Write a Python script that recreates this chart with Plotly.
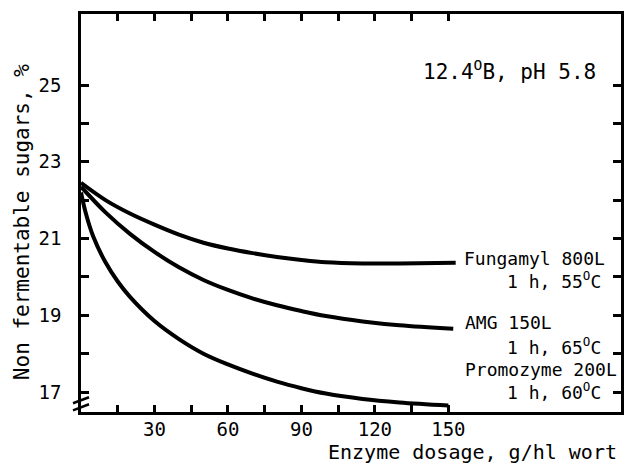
import plotly.graph_objects as go

# Data
dose_fungamyl = [0, 10, 20, 30, 40, 50, 60, 70, 80, 90, 100, 115, 130, 153]
nfs_fungamyl = [22.45, 22.0, 21.65, 21.36, 21.1, 20.89, 20.74, 20.62, 20.52, 20.44, 20.38, 20.35, 20.35, 20.37]

dose_amg = [0, 10, 20, 30, 40, 50, 60, 70, 80, 90, 100, 115, 130, 152]
nfs_amg = [22.35, 21.68, 21.12, 20.65, 20.25, 19.92, 19.66, 19.44, 19.26, 19.11, 18.98, 18.84, 18.74, 18.65]

dose_promozyme = [0, 2, 5, 10, 15, 20, 30, 40, 50, 60, 70, 80, 90, 100, 115, 130, 150]
nfs_promozyme = [22.2, 21.65, 21.05, 20.38, 19.88, 19.48, 18.85, 18.38, 18.0, 17.72, 17.48, 17.27, 17.1, 16.96, 16.82, 16.73, 16.65]

x_ticks = [15, 30, 45, 60, 75, 90, 105, 120, 135, 150]
x_ticktext = ["", "30", "", "60", "", "90", "", "120", "", "150"]
y_ticks = [17, 18, 19, 20, 21, 22, 23, 24, 25]
y_ticktext = ["17", "", "19", "", "21", "", "23", "", "25"]

FONT = "DejaVu Sans Mono"

fig = go.Figure()
for xs, ys in [(dose_fungamyl, nfs_fungamyl), (dose_amg, nfs_amg), (dose_promozyme, nfs_promozyme)]:
    fig.add_trace(go.Scatter(x=xs, y=ys, mode="lines",
                             line=dict(color="black", width=4, shape="spline", smoothing=1.0),
                             showlegend=False, hoverinfo="skip"))

fig.update_layout(
    width=628, height=463,
    margin=dict(l=81, r=7, t=14, b=51),
    paper_bgcolor="white", plot_bgcolor="white",
    font=dict(family=FONT, size=19, color="black"),
    xaxis=dict(range=[0, 220.5], tickvals=x_ticks, ticktext=x_ticktext,
               ticks="inside", ticklen=7, tickwidth=2.5, tickcolor="black",
               showline=True, linewidth=2.5, linecolor="black", mirror="ticks",
               showgrid=False, zeroline=False, automargin=False, ticklabelstandoff=-2,
               tickfont=dict(family=FONT, size=19)),
    yaxis=dict(range=[16.48, 26.85], tickvals=y_ticks, ticktext=y_ticktext,
               ticks="inside", ticklen=8, tickwidth=2.5, tickcolor="black",
               showline=True, linewidth=2.5, linecolor="black", mirror="ticks",
               showgrid=False, zeroline=False, ticklabelstandoff=13, automargin=False,
               tickfont=dict(family=FONT, size=19)),
)

ann = [
    dict(text="12.4<sup>O</sup>B, pH 5.8", x=211.1, y=25.39, xanchor="right", yanchor="middle", size=21),
    dict(text="Fungamyl 800L", x=155.5, y=20.49, xanchor="left", yanchor="middle", size=18),
    dict(text="1 h, 55<sup>O</sup>C", x=213.1, y=19.91, xanchor="right", yanchor="middle", size=18),
    dict(text="AMG 150L", x=156.0, y=18.82, xanchor="left", yanchor="middle", size=18),
    dict(text="1 h, 65<sup>O</sup>C", x=213.1, y=18.19, xanchor="right", yanchor="middle", size=18),
    dict(text="Promozyme 200L", x=156.0, y=17.59, xanchor="left", yanchor="middle", size=18),
    dict(text="1 h, 60<sup>O</sup>C", x=213.1, y=17.02, xanchor="right", yanchor="middle", size=18),
]
for a in ann:
    size = a.pop("size")
    fig.add_annotation(xref="x", yref="y", showarrow=False,
                       font=dict(family=FONT, size=size, color="black"), **a)

# axis titles
fig.add_annotation(text="Enzyme dosage, g/hl wort", xref="paper", yref="paper",
                   x=(619 - 81) / 540, y=(411.7 - 452) / 397.7,
                   xanchor="right", yanchor="middle", showarrow=False,
                   font=dict(family=FONT, size=20, color="black"))
fig.add_annotation(text="Non fermentable sugars, %", xref="paper", yref="paper",
                   x=(22 - 81) / 540, y=(411.7 - 222) / 397.7, textangle=-90,
                   xanchor="center", yanchor="middle", showarrow=False,
                   font=dict(family=FONT, size=21, color="black"))

# axis break mark
def px(xp, yp):
    return (xp - 81) / 540, (411.7 - yp) / 397.7

for (xa, ya, xb, yb) in [(73, 403, 89, 397), (73, 410, 89, 404)]:
    x0, y0 = px(xa, ya)
    x1, y1 = px(xb, yb)
    fig.add_shape(type="line", xref="paper", yref="paper", x0=x0, y0=y0, x1=x1, y1=y1,
                  line=dict(color="black", width=2.5))

fig.write_html("out.html", config={"displayModeBar": False},
               post_script="document.body.style.margin='0';document.body.style.overflow='hidden';")
